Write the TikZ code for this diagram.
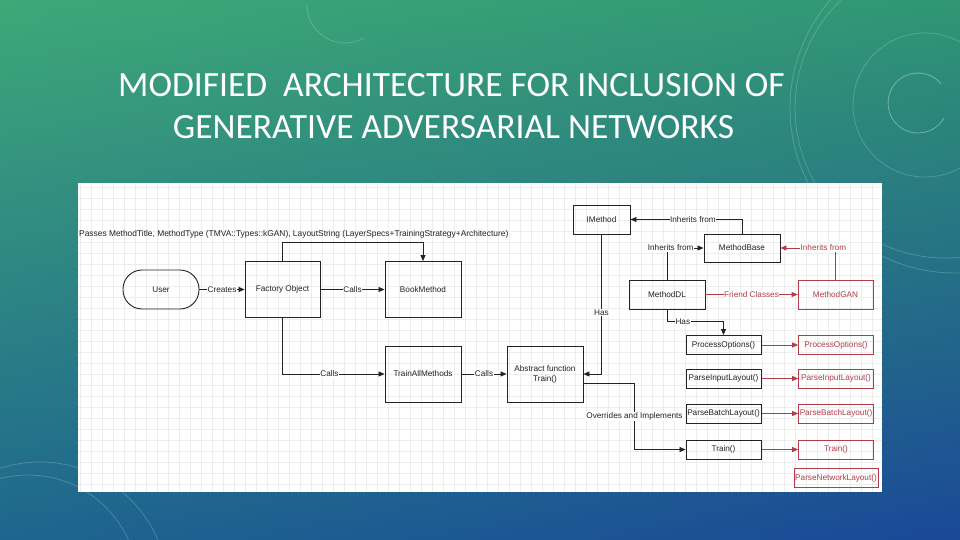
\documentclass[tikz,border=0pt]{standalone}
\usepackage{fontspec}
\setmainfont{Liberation Sans}
\newfontfamily\titlefont{Carlito}
\usepackage{xcolor}
\usetikzlibrary{arrows.meta,shadings}

\definecolor{bgul}{RGB}{62,168,120}
\definecolor{bgur}{RGB}{48,150,116}
\definecolor{bgll}{RGB}{30,102,142}
\definecolor{bglr}{RGB}{26,72,152}
\definecolor{gancol}{RGB}{178,60,74}
\definecolor{inkcol}{RGB}{35,35,35}

\begin{document}
\begin{tikzpicture}[x=1pt,y=-1pt,
  diag/.style={font=\fontsize{8.2}{9.8}\selectfont,text=inkcol},
  box/.style={diag,draw=inkcol,line width=0.9pt,minimum width=76pt,minimum height=56pt,inner sep=1pt,align=center},
  cls/.style={box,minimum height=29pt},
  fn/.style={box,minimum width=75pt,minimum height=19pt},
  ganfn/.style={fn,draw=gancol,text=gancol,line width=0.7pt},
  lbl/.style={diag,fill=white,inner sep=0.5pt},
  ganlbl/.style={lbl,text=gancol},
  arr/.style={draw=inkcol,line width=0.8pt,-{Triangle[length=6pt,width=5pt]}},
  ganarr/.style={arr,draw=gancol,-{Triangle[length=6pt,width=5pt,fill=gancol]}},
  deco/.style={white,opacity=0.2,line width=0.8pt},
  gridline/.style={black!7,line width=0.4pt},
  titletext/.style={font=\titlefont\fontsize{35.5}{42}\selectfont,text=white,anchor=base}]

\useasboundingbox (0,0) rectangle (960,540);
\shade[upper left=bgul,upper right=bgur,lower left=bgll,lower right=bglr] (0,0) rectangle (960,540);

% background rings
\draw[deco,opacity=0.35] (918,103) ++(40:30pt) arc (40:330:30pt);
\draw[deco] (925,105) circle (72pt);
\draw[deco] (945,108) circle (150pt);
\draw[deco] (955,108) circle (165pt);
\draw[deco] (28,585) circle (110pt);
\draw[deco] (40,590) circle (128pt);
\draw[deco] (345,5) ++(180:38pt) arc (180:300:38pt);

% title
\node[titletext] (title1) at (451.5,97) {MODIFIED\ \ ARCHITECTURE FOR INCLUSION OF};
\node[titletext] (title2) at (453.5,139) {GENERATIVE ADVERSARIAL NETWORKS};

% panel with grid
\fill[white] (78,183) rectangle (882,492);
\foreach \gx in {80,91,...,880} \draw[gridline] (\gx,183) -- (\gx,492);
\foreach \gy in {187,198,...,490} \draw[gridline] (78,\gy) -- (882,\gy);

% nodes
\node[box,minimum height=39pt,rounded corners=19pt] (user) at (161,289.5) {User};
\node[box,minimum width=75pt] (fact) at (282.5,289.5) {Factory Object};
\node[box] (book) at (423,289.5) {BookMethod};
\node[box] (trainall) at (423,374) {TrainAllMethods};
\node[box] (abst) at (545,374) {Abstract function\\Train()};
\node[cls,minimum width=57pt] (imeth) at (601.5,219.5) {IMethod};
\node[cls,minimum height=28pt] (base) at (742,248) {MethodBase};
\node[cls] (dl) at (667,294.5) {MethodDL};
\node[cls,draw=gancol,text=gancol,line width=0.7pt,minimum width=75pt] (gan) at (835.5,294.5) {MethodGAN};
\node[diag,font=\fontsize{8.4}{10}\selectfont,anchor=west,inner sep=0pt] (passes) at (79,234) {Passes MethodTitle, MethodType (TMVA::Types::kGAN), LayoutString (LayerSpecs+TrainingStrategy+Architecture)};

\foreach \n/\t/\y in {proc/ProcessOptions()/345,inp/ParseInputLayout()/378.5,bat/ParseBatchLayout()/413.5,trn/Train()/449.5}{
  \node[fn] (\n) at (723.5,\y) {\t};
  \node[ganfn] (g\n) at (836,\y) {\t};
  \draw[ganarr] ([xshift=1pt]\n.east) -- (g\n.west);
}
\node[ganfn,minimum width=84pt] (gnet) at (836,478) {ParseNetworkLayout()};

% connectors
\draw[arr] (user) -- (fact) node[lbl,midway] {Creates};
\draw[arr] (fact) -- (book) node[lbl,midway] {Calls};
\draw[arr] (fact.north) -- ++(0,-19) -| (book.north);
\draw[arr] (fact.south) |- (trainall.west) node[lbl,pos=0.73] {Calls};
\draw[arr] (trainall) -- (abst) node[lbl,midway] {Calls};
\draw[arr] (imeth.south) |- (abst.east) node[lbl,pos=0.28] {Has};
\draw[arr] ([yshift=-9pt]abst.east) -- ++(51,0) |- (trn.west) node[lbl,pos=0.25] {Overrides and Implements};
\draw[arr] (base.north) |- (imeth.east) node[lbl,pos=0.72] {Inherits from};
\draw[arr] (dl.north) |- (base.west) node[lbl,pos=0.55] {Inherits from};
\draw[arr] (dl.south) -- ++(0,12) -| (proc.north) node[lbl,pos=0.14] {Has};
\draw[ganarr] (gan.north) |- (base.east) node[ganlbl,pos=0.61] {Inherits from};
\draw[ganarr] (dl) -- (gan) node[ganlbl,midway] {Friend Classes};
\end{tikzpicture}
\end{document}
